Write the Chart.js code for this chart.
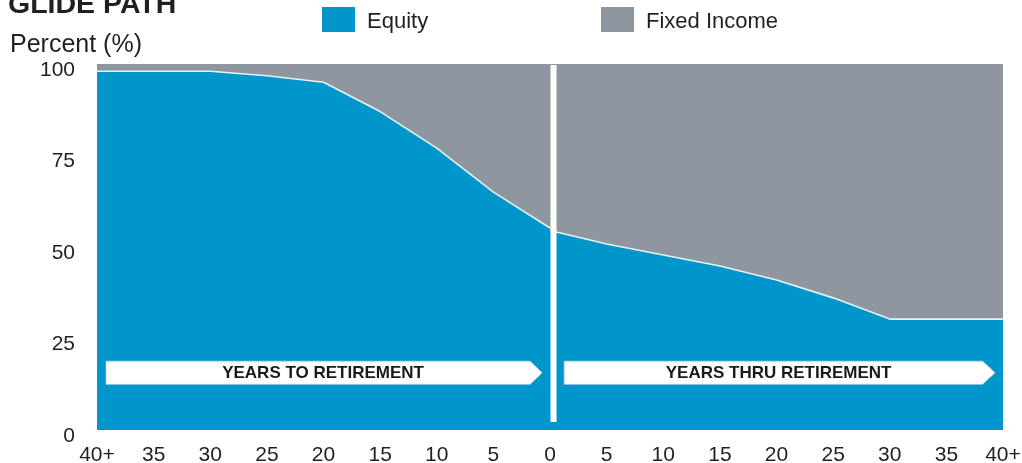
<!DOCTYPE html>
<html>
<head>
<meta charset="utf-8">
<script src="https://cdn.jsdelivr.net/npm/chart.js@4.4.1/dist/chart.umd.min.js"></script>
<style>
html,body{margin:0;padding:0;background:#fff;}
body{width:1022px;height:463px;position:relative;overflow:hidden;font-family:"Liberation Sans",Arial,Helvetica,sans-serif;color:#231f20;}
#c{position:absolute;left:0;top:0;}
.t{position:absolute;white-space:nowrap;line-height:1;}
#title{left:8px;top:-11px;font-size:28.5px;font-weight:bold;}
#ylab{left:10px;top:31px;font-size:25px;}
.sw{position:absolute;top:7px;width:33px;height:25px;}
.lt{top:10px;font-size:22px;}
</style>
</head>
<body>
<canvas id="c" width="1022" height="463"></canvas>
<div class="t" id="title">GLIDE PATH</div>
<div class="t" id="ylab">Percent (%)</div>
<div class="sw" style="left:322px;background:#0096cb"></div>
<div class="t lt" style="left:367px">Equity</div>
<div class="sw" style="left:601px;background:#8e96a0"></div>
<div class="t lt" style="left:646px">Fixed Income</div>
<script>
// ---- data ----
const preYears   = [-40, -35, -30, -25, -20, -15, -10, -5, 0];   // years to retirement (negative = before)
const preEquity  = [98, 98, 98, 96.8, 95, 87, 77, 65, 55.2];
const preFixed   = [2, 2, 2, 3.2, 5, 13, 23, 35, 44.8];
const postYears  = [0, 5, 10, 15, 20, 25, 30, 35, 40];          // years through retirement
const postEquity = [54.5, 50.8, 47.8, 44.8, 41, 36.1, 30.3, 30.3, 30.3];
const postFixed  = [45.5, 49.2, 52.2, 55.2, 59, 63.9, 69.7, 69.7, 69.7];
const xTickLabels = ['40+','35','30','25','20','15','10','5','0','5','10','15','20','25','30','35','40+'];
const yTickValues = [0, 25, 50, 75, 100];
const phaseLabels = ['YEARS TO RETIREMENT', 'YEARS THRU RETIREMENT'];

const BLUE = '#0096cb';
const GRAY = '#8e96a0';
const FONT = '"Liberation Sans", Arial, Helvetica, sans-serif';

function pts(xs, ys){ return xs.map((x,i)=>({x:x, y:ys[i]})); }

// arrows: spans in year units on x
const arrowSpans = [
  {from:-39.2, body:-1.75, tip:-0.7, label:phaseLabels[0]},
  {from:1.25, body:38.2, tip:39.3, label:phaseLabels[1]}
];

const overlay = {
  id:'overlay',
  afterDatasetsDraw(chart){
    const {ctx, chartArea:ca, scales:{x, y}} = chart;
    ctx.save();
    // white divider at retirement
    const x0 = x.getPixelForValue(0) + 3.5;
    ctx.fillStyle = '#ffffff';
    ctx.fillRect(x0 - 3, ca.top + 1, 6, (ca.bottom - 8) - (ca.top + 1));
    // arrows
    const yTop = y.getPixelForValue(18.8), yBot = y.getPixelForValue(12.5);
    const yMid = (yTop + yBot) / 2;
    arrowSpans.forEach(a => {
      const xa = x.getPixelForValue(a.from), xb = x.getPixelForValue(a.body), xt = x.getPixelForValue(a.tip);
      ctx.beginPath();
      ctx.moveTo(xa, yTop); ctx.lineTo(xb, yTop); ctx.lineTo(xt, yMid);
      ctx.lineTo(xb, yBot); ctx.lineTo(xa, yBot); ctx.closePath();
      ctx.fillStyle = '#ffffff';
      ctx.fill();
      ctx.strokeStyle = 'rgba(200,215,225,0.9)';
      ctx.lineWidth = 0.8;
      ctx.stroke();
      ctx.fillStyle = '#1a1a1a';
      ctx.font = 'bold 17px ' + FONT;
      ctx.textAlign = 'center';
      ctx.textBaseline = 'middle';
      ctx.fillText(a.label, (xa + xt) / 2 - 1, yMid + 1);
    });
    ctx.restore();
  }
};

const lineStyle = {pointRadius:0, tension:0, borderJoinStyle:'round'};

new Chart(document.getElementById('c'), {
  type:'line',
  data:{
    datasets:[
      Object.assign({label:'Equity', data:pts(preYears, preEquity), stack:'pre', fill:'origin',
        backgroundColor:BLUE, borderColor:'rgba(240,245,248,0.95)', borderWidth:1.6}, lineStyle),
      Object.assign({label:'Fixed Income', data:pts(preYears, preFixed), stack:'pre', fill:'-1',
        backgroundColor:GRAY, borderColor:'rgba(0,0,0,0)', borderWidth:0}, lineStyle),
      Object.assign({label:'Equity', data:pts(postYears, postEquity), stack:'post', fill:'origin',
        backgroundColor:BLUE, borderColor:'rgba(240,245,248,0.95)', borderWidth:1.6}, lineStyle),
      Object.assign({label:'Fixed Income', data:pts(postYears, postFixed), stack:'post', fill:'-1',
        backgroundColor:GRAY, borderColor:'rgba(0,0,0,0)', borderWidth:0}, lineStyle)
    ]
  },
  options:{
    responsive:false,
    animation:false,
    layout:{padding:{top:64, right:19, left:0, bottom:0}},
    plugins:{legend:{display:false}, tooltip:{enabled:false}, title:{display:false}},
    scales:{
      x:{
        type:'linear', min:-40, max:40,
        grid:{display:false, drawTicks:false}, border:{display:false},
        afterBuildTicks(s){ s.ticks = xTickLabels.map((_,i)=>({value:-40 + i*5})); },
        afterFit(s){ s.height = 33; s.paddingLeft = 0; s.paddingRight = 0; },
        ticks:{autoSkip:false, maxRotation:0, padding:13, color:'#231f20',
          font:{family:FONT, size:21},
          callback:(v,i)=>xTickLabels[i]}
      },
      y:{
        stacked:true, min:0, max:100,
        grid:{display:false, drawTicks:false}, border:{display:false},
        afterBuildTicks(s){ s.ticks = yTickValues.map(v=>({value:v})); },
        afterFit(s){ s.width = 97; s.paddingTop = 0; s.paddingBottom = 0; },
        ticks:{padding:22, labelOffset:6, color:'#231f20', font:{family:FONT, size:21}}
      }
    }
  },
  plugins:[overlay]
});
</script>
</body>
</html>
